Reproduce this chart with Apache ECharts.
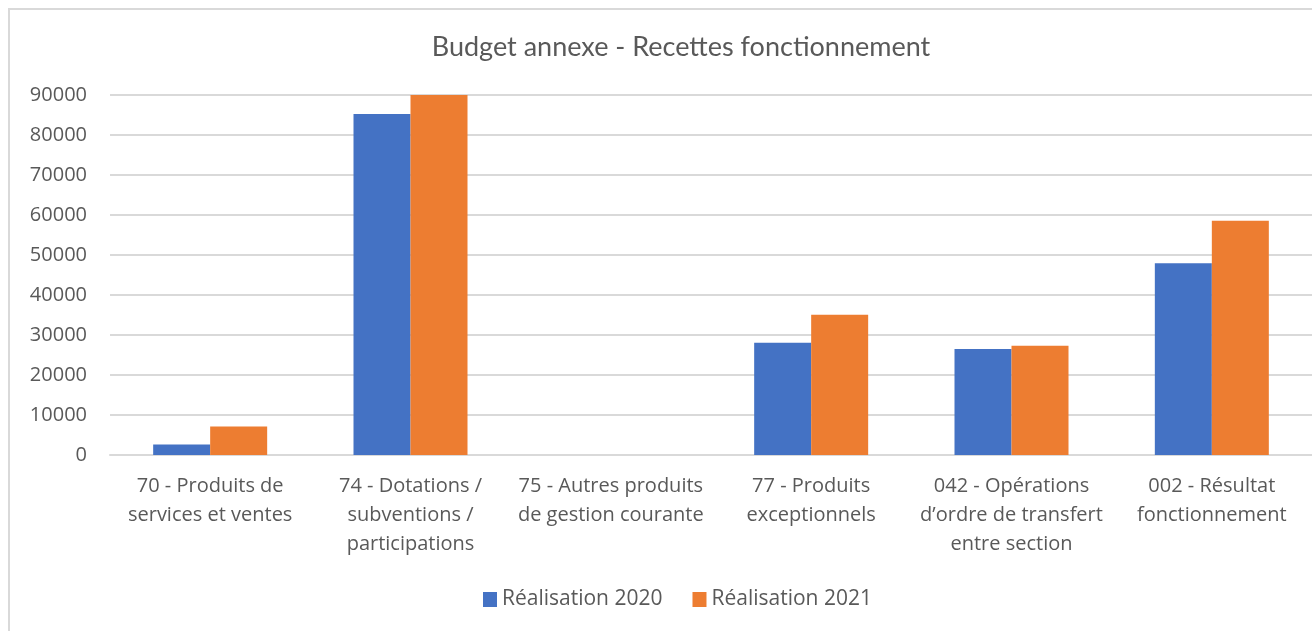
<!DOCTYPE html>
<html>
<head>
<meta charset="utf-8">
<script src="https://cdn.jsdelivr.net/npm/echarts@6/dist/echarts.min.js"></script>
<style>
  html, body { margin: 0; padding: 0; background: #fff; }
  #chart { width: 1312px; height: 631px; }
</style>
</head>
<body>
<div id="chart"></div>
<script>
var categories = [
  '70 - Produits de\nservices et ventes',
  '74 - Dotations /\nsubventions /\nparticipations',
  '75 - Autres produits\nde gestion courante',
  '77 - Produits\nexceptionnels',
  '042 - Opérations\nd’ordre de transfert\nentre section',
  '002 - Résultat\nfonctionnement'
];
var real2020 = [2650, 85250, 0, 28050, 26500, 47950];
var real2021 = [7100, 90000, 0, 35050, 27300, 58550];
var seriesNames = ['Réalisation 2020', 'Réalisation 2021'];

var chart = echarts.init(document.getElementById('chart'));
chart.setOption({
    animation: false,
    color: ['#4472c4', '#ed7d31'],
    graphic: [
        {
            type: 'rect',
            shape: { x: 9, y: 9, width: 1320, height: 640 },
            style: { fill: 'none', stroke: '#d9d9d9', lineWidth: 2 }
        }
    ],
    title: {
        text: 'Budget annexe - Recettes fonctionnement',
        left: 676,
        textAlign: 'center',
        top: 29,
        textStyle: {
            fontFamily: 'Lato',
            fontWeight: 'normal',
            fontSize: 27,
            color: '#595959'
        }
    },
    legend: {
        data: seriesNames,
        bottom: 16,
        left: 478,
        itemWidth: 14,
        itemHeight: 15,
        itemGap: 30,
        icon: 'rect',
        textStyle: {
            fontFamily: 'Open Sans',
            fontSize: 21,
            color: '#595959'
        }
    },
    grid: {
        left: 110,
        right: 0,
        top: 95,
        bottom: 176
    },
    xAxis: {
        type: 'category',
        data: categories,
        axisTick: { show: false },
        axisLine: { lineStyle: { color: '#d9d9d9', width: 2 } },
        axisLabel: {
            interval: 0,
            margin: 17,
            lineHeight: 29,
            fontFamily: 'Open Sans',
            fontSize: 20,
            color: '#595959'
        }
    },
    yAxis: {
        type: 'value',
        min: 0,
        max: 90000,
        interval: 10000,
        axisLine: { show: false },
        axisTick: { show: false },
        splitLine: { lineStyle: { color: '#d9d9d9', width: 2 } },
        axisLabel: {
            margin: 23,
            fontFamily: 'Open Sans',
            fontSize: 20,
            color: '#595959',
            formatter: function (v) { return String(v); }
        }
    },
    series: [
        {
            name: seriesNames[0],
            type: 'bar',
            barWidth: 57,
            barGap: '0%',
            data: real2020
        },
        {
            name: seriesNames[1],
            type: 'bar',
            barWidth: 57,
            barGap: '0%',
            data: real2021
        }
    ]
});
</script>
</body>
</html>
